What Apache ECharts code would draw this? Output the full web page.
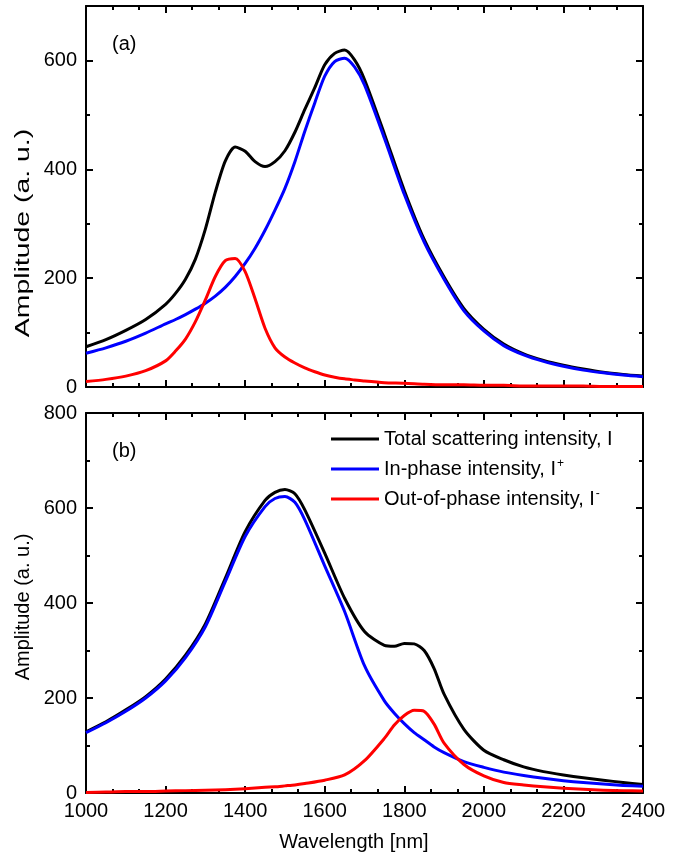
<!DOCTYPE html>
<html>
<head>
<meta charset="utf-8">
<script src="https://cdn.jsdelivr.net/npm/echarts@6/dist/echarts.min.js"></script>
<style>
	html, body { margin: 0; padding: 0; background: #fff; }
	#chart { width: 689px; height: 863px; }
</style>
</head>
<body>
<div id="chart"></div>
<script>
// panel (a)
var wlA = [1000, 1050, 1100, 1150, 1200, 1225, 1250, 1275, 1300, 1325, 1350, 1375, 1400, 1425, 1450, 1475, 1500, 1525, 1550, 1575, 1600, 1625, 1650, 1675, 1700, 1750, 1800, 1850, 1900, 1950, 2000, 2050, 2100, 2150, 2200, 2250, 2300, 2350, 2400];
var totalA = [74, 87, 104, 124, 152, 172, 198, 235, 290, 358, 415, 441, 433, 414, 405, 414, 434, 468, 510, 550, 592, 613, 619, 601, 565, 465, 361, 271, 202, 144, 106, 79, 61, 49, 40, 33, 27, 23, 20];
var inPhaseA = [62, 72, 84, 99, 116, 124, 133, 143, 154, 167, 183, 203, 227, 255, 288, 325, 365, 414, 470, 522, 571, 598, 604, 588, 555, 457, 354, 266, 198, 140, 103, 76, 59, 47, 38, 31, 26, 22, 19];
var outPhaseA = [10, 14, 20, 30, 48, 66, 88, 120, 160, 203, 232, 236, 212, 162, 108, 72, 55, 44, 35, 28, 22, 18, 15, 13, 11, 8, 7, 5, 4, 4, 3, 3, 2, 2, 2, 2, 1, 1, 1];

// panel (b)
var wlB = [1000, 1050, 1100, 1150, 1200, 1250, 1300, 1350, 1400, 1450, 1475, 1500, 1525, 1550, 1600, 1650, 1700, 1750, 1775, 1800, 1825, 1850, 1875, 1900, 1950, 2000, 2050, 2100, 2150, 2200, 2250, 2300, 2350, 2400];
var totalB = [129, 150, 175, 203, 240, 290, 356, 452, 550, 616, 633, 639, 630, 596, 505, 410, 340, 311, 309, 315, 314, 300, 262, 208, 134, 90, 70, 55, 45, 38, 32, 27, 22, 18];
var inPhaseB = [127, 148, 172, 200, 236, 285, 350, 445, 540, 603, 620, 624, 612, 575, 478, 382, 268, 194, 168, 146, 127, 112, 97, 85, 66, 54, 44, 37, 31, 26, 22, 19, 16, 14];
var outPhaseB = [1, 2, 3, 3, 4, 5, 6, 7, 9, 12, 13, 15, 17, 20, 27, 38, 68, 115, 143, 163, 174, 172, 145, 105, 60, 36, 22, 17, 13, 10, 8, 6, 5, 4];

// ticks
var xMajor = [1000, 1200, 1400, 1600, 1800, 2000, 2200, 2400];
var yMajorA = [0, 200, 400, 600];
var yMinorA = [100, 300, 500];
var yMajorB = [0, 200, 400, 600, 800];
var yMinorB = [100, 300, 500, 700];

var seriesNames = ["Total scattering intensity, I", "In-phase intensity, I+", "Out-of-phase intensity, I-"];
var colors = ["#000000", "#0000ff", "#ff0000"];

var xMinor = [];
for (var i = 0; i < xMajor.length - 1; i++) {
	var step = (xMajor[i + 1] - xMajor[i]) / 3;
	xMinor.push(xMajor[i] + step, xMajor[i] + 2 * step);
}

var FONT = "Liberation Sans, Arial, sans-serif";
var AXIS_COLOR = "#000";

function pairs(xs, ys) {
	return xs.map(function (x, k) { return [x, ys[k]]; });
}

function plain(v) {
	return String(v);
}

// one visible axis + one for minor ticks, on both sides of the box
function xAxes(grid, showLabels) {
	var base = function (pos, ticks, len, line, labels) {
		return {
			type: "value", gridIndex: grid, position: pos,
			min: 1000, max: 2400,
			axisLine: { show: line, onZero: false, lineStyle: { color: AXIS_COLOR, width: 2 } },
			axisTick: { show: true, inside: true, length: len, customValues: ticks, lineStyle: { color: AXIS_COLOR, width: 2 } },
			axisLabel: {
				show: labels, customValues: xMajor, margin: 8, formatter: plain,
				color: "#000", fontSize: 20, fontFamily: FONT
			},
			splitLine: { show: false }
		};
	};
	return [
		base("bottom", xMajor, 7, true, showLabels),
		base("bottom", xMinor, 4, false, false),
		base("top", xMajor, 7, true, false),
		base("top", xMinor, 4, false, false)
	];
}

function yAxes(grid, max, major, minor) {
	var base = function (pos, ticks, len, line, labels) {
		return {
			type: "value", gridIndex: grid, position: pos,
			min: 0, max: max,
			axisLine: { show: line, onZero: false, lineStyle: { color: AXIS_COLOR, width: 2 } },
			axisTick: { show: true, inside: true, length: len, customValues: ticks, lineStyle: { color: AXIS_COLOR, width: 2 } },
			axisLabel: {
				show: labels, customValues: major, margin: 9, formatter: plain,
				color: "#000", fontSize: 20, fontFamily: FONT
			},
			splitLine: { show: false }
		};
	};
	return [
		base("left", major, 7, true, true),
		base("left", minor, 4, false, false),
		base("right", major, 7, true, false),
		base("right", minor, 4, false, false)
	];
}

function lineSeries(name, color, data, axisIdx) {
	return {
		name: name, type: "line",
		xAxisIndex: axisIdx, yAxisIndex: axisIdx,
		data: data,
		showSymbol: false, symbol: "none",
		smooth: 0.25,
		lineStyle: { color: color, width: 3, join: "round" },
		itemStyle: { color: color },
		emphasis: { disabled: true },
		z: 3
	};
}

var myChart = echarts.init(document.getElementById("chart"), null, { renderer: "canvas" });

var option = {
	animation: false,
	backgroundColor: "#fff",
	grid: [
		{ left: 86, right: 46, top: 6, height: 381 },
		{ left: 86, right: 46, top: 413, height: 380 }
	],
	xAxis: xAxes(0, false).concat(xAxes(1, true)),
	yAxis: yAxes(0, 700, yMajorA, yMinorA).concat(yAxes(1, 800, yMajorB, yMinorB)),
	legend: {
		left: 331, top: 429, padding: 0,
		orient: "vertical",
		itemWidth: 48, itemHeight: 3, itemGap: 9,
		icon: "rect",
		data: seriesNames,
		formatter: function (n) {
			if (n === seriesNames[1]) return "{t|In-phase intensity, I}{s|+}";
			if (n === seriesNames[2]) return "{t|Out-of-phase intensity, I}{s|-}";
			return "{t|" + n + "}";
		},
		textStyle: {
			color: "#000", fontFamily: FONT, fontSize: 20,
			rich: {
				t: { fontSize: 20, fontFamily: FONT, color: "#000", lineHeight: 20 },
				s: { fontSize: 12, fontFamily: FONT, color: "#000", verticalAlign: "top", padding: [0, 0, 10, 1] }
			}
		}
	},
	graphic: [
		{ type: "text", left: 112, top: 34, style: { text: "(a)", font: "20px " + FONT, fill: "#000" } },
		{ type: "text", left: 112, top: 441, style: { text: "(b)", font: "20px " + FONT, fill: "#000" } },
		// the upper panel's y title is stretched along its length in the original
		{ type: "text", x: 23, y: 233, rotation: Math.PI / 2, scaleX: 1.42, style: { text: "Amplitude (a. u.)", font: "20px " + FONT, fill: "#000", align: "center", verticalAlign: "middle" } },
		{ type: "text", x: 23, y: 607, rotation: Math.PI / 2, style: { text: "Amplitude (a. u.)", font: "20px " + FONT, fill: "#000", align: "center", verticalAlign: "middle" } },
		{ type: "text", x: 354, y: 842, style: { text: "Wavelength [nm]", font: "20px " + FONT, fill: "#000", align: "center", verticalAlign: "middle" } }
	],
	series: [
		lineSeries(seriesNames[0], colors[0], pairs(wlA, totalA), 0),
		lineSeries(seriesNames[1], colors[1], pairs(wlA, inPhaseA), 0),
		lineSeries(seriesNames[2], colors[2], pairs(wlA, outPhaseA), 0),
		lineSeries(seriesNames[0], colors[0], pairs(wlB, totalB), 4),
		lineSeries(seriesNames[1], colors[1], pairs(wlB, inPhaseB), 4),
		lineSeries(seriesNames[2], colors[2], pairs(wlB, outPhaseB), 4)
	]
};
myChart.setOption(option);
window.addEventListener("resize", myChart.resize);
</script>
</body>
</html>
